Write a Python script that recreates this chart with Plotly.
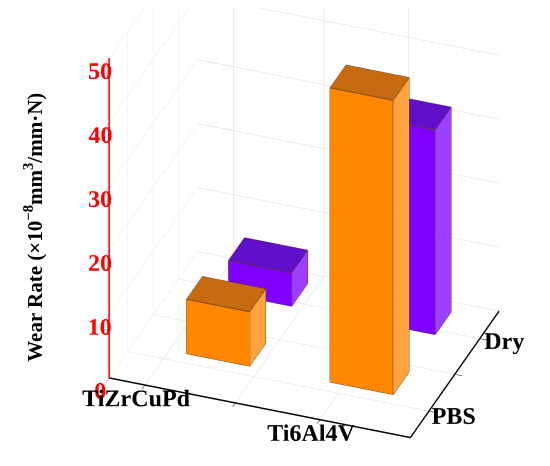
import plotly.graph_objects as go

materials = ["TiZrCuPd", "Ti6Al4V"]
conditions = ["PBS", "Dry"]
wear_pbs = [8.5, 46.0]
wear_dry = [5.2, 32.0]
z_ticks = [0, 10, 20, 30, 40, 50]
x_tick_pos = [-0.34, 0.29, 0.88]
x_tick_text = ["TiZrCuPd", "", "Ti6Al4V"]
y_tick_pos = [-0.33, 0.285, 0.88]
y_tick_text = ["PBS", "", "Dry"]

series = [
    ("PBS", wear_pbs, ["#FF8800", "#FFA33F", "#C86A10"]),
    ("Dry", wear_dry, ["#7F00FF", "#9B40FF", "#6010C8"]),
]

BW = 0.44  # bar width along x
BD = 0.38  # bar depth along y

fig = go.Figure()


def box(xc, yc, h, cols):
    x0, x1 = xc - BW / 2, xc + BW / 2
    y0, y1 = yc - BD / 2, yc + BD / 2
    z0, z1 = 0, h
    X = [x0, x1, x1, x0, x0, x1, x1, x0]
    Y = [y0, y0, y1, y1, y0, y0, y1, y1]
    Z = [z0, z0, z0, z0, z1, z1, z1, z1]
    tris = [
        ((0, 1, 2), cols[0]), ((0, 2, 3), cols[0]),   # bottom
        ((4, 5, 6), cols[2]), ((4, 6, 7), cols[2]),   # top
        ((0, 1, 5), cols[0]), ((0, 5, 4), cols[0]),   # front
        ((3, 2, 6), cols[0]), ((3, 6, 7), cols[0]),   # back
        ((0, 3, 7), cols[1]), ((0, 7, 4), cols[1]),   # left
        ((1, 2, 6), cols[1]), ((1, 6, 5), cols[1]),   # right
    ]
    fig.add_trace(go.Mesh3d(
        x=X, y=Y, z=Z,
        i=[t[0][0] for t in tris], j=[t[0][1] for t in tris], k=[t[0][2] for t in tris],
        facecolor=[t[1] for t in tris], flatshading=True,
        lighting=dict(ambient=1, diffuse=0, specular=0, roughness=1, fresnel=0),
        hoverinfo="skip", showscale=False,
    ))
    edges = [(0, 1), (1, 2), (2, 3), (3, 0), (4, 5), (5, 6), (6, 7), (7, 4),
             (0, 4), (1, 5), (2, 6), (3, 7)]
    ex, ey, ez = [], [], []
    for a, b in edges:
        ex += [X[a], X[b], None]
        ey += [Y[a], Y[b], None]
        ez += [Z[a], Z[b], None]
    fig.add_trace(go.Scatter3d(x=ex, y=ey, z=ez, mode="lines",
                               line=dict(color="#5a3a20", width=1.5),
                               hoverinfo="skip", showlegend=False))


for yi, (cond, vals, cols) in enumerate(series):
    for xi, v in enumerate(vals):
        box(xi, yi, v, cols)

font_family = "Liberation Serif"
axis_common = dict(
    showbackground=False,
    gridcolor="#d9d9d9",
    gridwidth=1,
    showline=True,
    linecolor="black",
    linewidth=3,
    ticks="outside",
    ticklen=8,
    tickcolor="black",
    tickangle=0,
    zeroline=False,
    showspikes=False,
    title=dict(text=""),
    tickfont=dict(family=font_family, size=17, color="black", weight="bold"),
)

center = dict(x=-0.040, y=-0.152, z=-0.205)
view_dir = (0.296, -0.795, 0.532)
dist = 1.8
eye = dict(x=center["x"] + view_dir[0] * dist,
           y=center["y"] + view_dir[1] * dist,
           z=center["z"] + view_dir[2] * dist)

fig.update_layout(
    width=550, height=466,
    margin=dict(l=0, r=0, t=0, b=0),
    paper_bgcolor="white",
    showlegend=False,
    scene=dict(
        domain=dict(x=[0, 1], y=[0, 1]),
        xaxis=dict(axis_common, range=[-0.59, 1.51],
                   tickvals=x_tick_pos, ticktext=x_tick_text),
        yaxis=dict(axis_common, range=[-0.77, 1.34],
                   tickvals=y_tick_pos, ticktext=y_tick_text),
        zaxis=dict(axis_common, range=[0, 50], tickvals=z_ticks,
                   linecolor="red", tickcolor="red",
                   tickfont=dict(family=font_family, size=17, color="red", weight="bold")),
        aspectmode="manual",
        aspectratio=dict(x=1.38, y=1.09, z=1.62),
        camera=dict(eye=eye, center=center, projection=dict(type="orthographic")),
    ),
    annotations=[dict(
        text="Wear Rate (×10<sup>−8</sup>mm<sup>3</sup>/mm·N)",
        xref="paper", yref="paper", x=0.045, y=0.53, xanchor="center", yanchor="middle",
        showarrow=False, textangle=-90,
        font=dict(family=font_family, size=21, color="black", weight="bold"),
    )],
)

fig.write_html("out.html")
